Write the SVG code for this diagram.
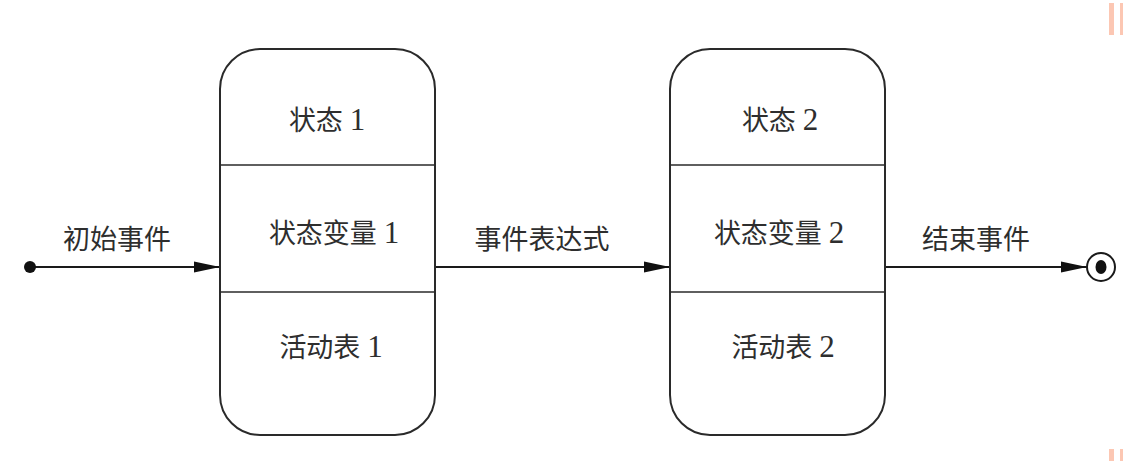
<svg xmlns="http://www.w3.org/2000/svg" width="1123" height="461" viewBox="0 0 1123 461">
<style>
.box{fill:#ffffff;stroke:#2a2a2a;stroke-width:2}
.div{stroke:#2a2a2a;stroke-width:1.6}
.lbl{font-family:"Liberation Serif","Noto Sans CJK SC",serif;font-size:27px;fill:#2e2e2e;text-anchor:middle}
.num{font-size:31px}
.edge{stroke:#1a1a1a;stroke-width:2;fill:none;marker-end:url(#arr)}
.mark{fill:#fcc7b3}
</style>
<defs>
<marker id="arr" markerWidth="26" markerHeight="14" refX="26" refY="7" orient="auto" markerUnits="userSpaceOnUse">
<path d="M0,1.5 L26,7 L0,12.5 Z" fill="#111"/>
</marker>
</defs>
<rect width="1123" height="461" fill="#ffffff"/>
<rect class="mark" x="1109" y="3" width="5" height="32"/>
<rect class="mark" x="1120" y="3" width="3" height="32"/>
<rect class="mark" x="1109" y="449" width="5" height="12"/>
<rect class="mark" x="1120" y="449" width="3" height="12"/>
<g id="connectors">
<line class="edge" x1="30" y1="267" x2="220" y2="267"/>
<text class="lbl" x="117" y="249">初始事件</text>
<line class="edge" x1="435" y1="267" x2="670" y2="267"/>
<text class="lbl" x="542" y="249">事件表达式</text>
<line class="edge" x1="885" y1="267" x2="1087" y2="267"/>
<text class="lbl" x="976" y="249">结束事件</text>
</g>
<g id="start">
<circle cx="30" cy="267" r="6" fill="#111"/>
</g>
<g id="state1">
<rect class="box" x="220" y="49" width="215" height="386" rx="40" ry="40"/>
<line class="div" x1="220" y1="165" x2="435" y2="165"/>
<line class="div" x1="220" y1="292" x2="435" y2="292"/>
<text class="lbl" x="327" y="130">状态 <tspan class="num">1</tspan></text>
<text class="lbl" x="334" y="243">状态变量 <tspan class="num">1</tspan></text>
<text class="lbl" x="331" y="357">活动表 <tspan class="num">1</tspan></text>
</g>
<g id="state2">
<rect class="box" x="670" y="49" width="215" height="386" rx="40" ry="40"/>
<line class="div" x1="670" y1="165" x2="885" y2="165"/>
<line class="div" x1="670" y1="292" x2="885" y2="292"/>
<text class="lbl" x="780" y="130">状态 <tspan class="num">2</tspan></text>
<text class="lbl" x="779" y="243">状态变量 <tspan class="num">2</tspan></text>
<text class="lbl" x="783" y="357">活动表 <tspan class="num">2</tspan></text>
</g>
<g id="end">
<circle cx="1101" cy="267" r="14" fill="#fff" stroke="#1a1a1a" stroke-width="2"/>
<ellipse cx="1101" cy="267" rx="5.5" ry="7" fill="#111"/>
</g>
</svg>
